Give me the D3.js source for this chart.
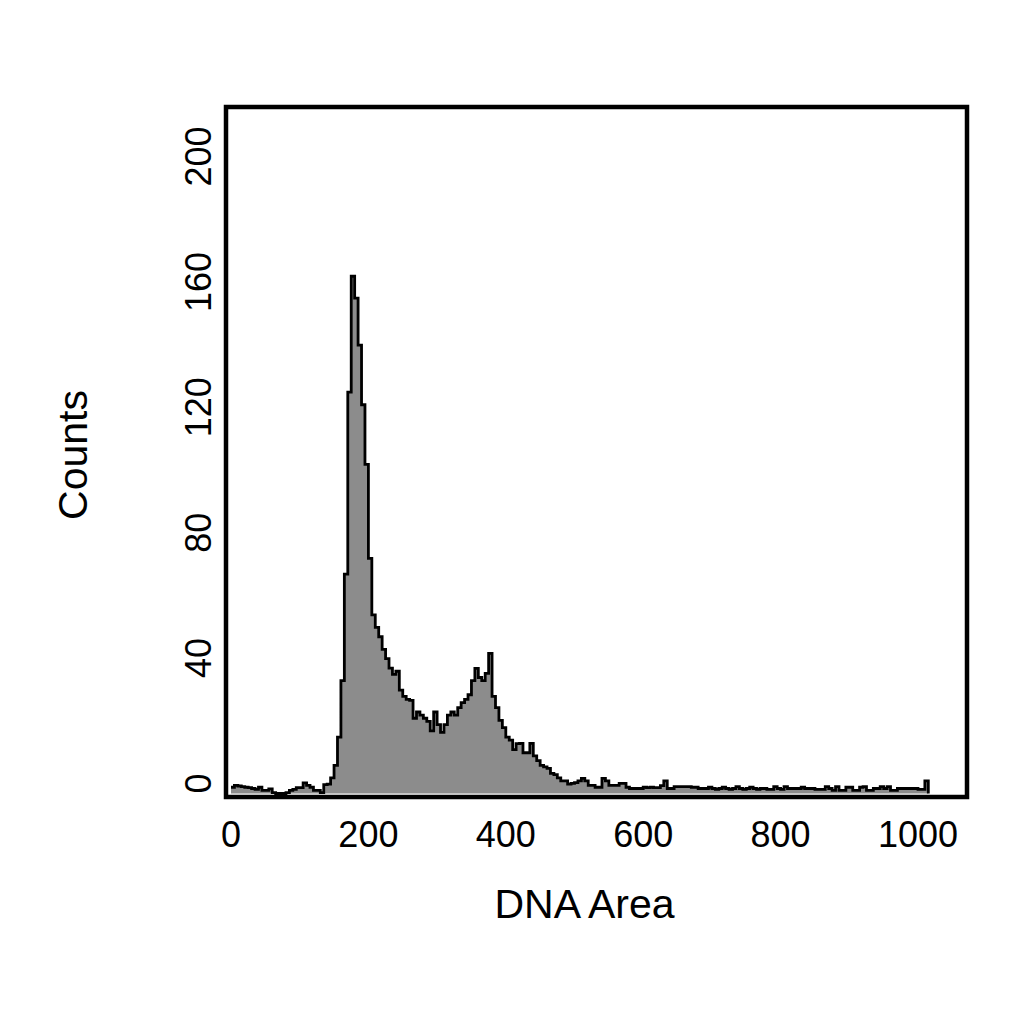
<!DOCTYPE html>
<html>
<head>
<meta charset="utf-8">
<script src="https://cdn.jsdelivr.net/npm/d3@7/dist/d3.min.js"></script>
<style>
  html, body { margin: 0; padding: 0; background: #fff; }
  svg { display: block; }
  text { font-family: "Liberation Sans", Arial, sans-serif; fill: #000; }
</style>
</head>
<body>
<svg id="chart" width="1024" height="1024"></svg>
<script>
// ---- data ----
const binWidth = 5;            // DNA Area units per bin
const counts = [
  2, 2.6, 2.4, 2.2, 2, 1.9, 1.6, 1.3, 2, 1,
  1, 1.5, 0.3, 0, 0, 0, 0.3, 1, 1.3, 1.9,
  1.9, 3.4, 2.6, 2, 1, 1, 0.3, 2.8, 3, 5,
  9, 18, 36, 70, 128, 165, 158, 143, 124, 105,
  75, 57, 53, 50, 46, 43, 40, 38, 39, 33,
  31, 30, 29.7, 24, 26, 25, 24, 23, 20, 26,
  22, 19.5, 22, 25, 26, 25, 27.4, 29, 30, 31.5,
  36, 39.9, 37, 36, 38.3, 44.7, 31, 27.4, 23.3, 21,
  18, 17, 14, 15.9, 16, 13, 13, 16, 12, 10.5,
  9, 8.5, 8, 6.4, 6, 5, 4, 4, 3, 3.2,
  3.5, 4, 4.8, 4, 2.6, 2.6, 2, 2, 4.8, 4,
  2.6, 2.6, 2.6, 3.2, 3.2, 2, 1.6, 1.6, 1.6, 1.6,
  2, 1.9, 2, 1.9, 1.9, 2.5, 4, 1.6, 1.6, 2.2,
  2.2, 2.2, 2.2, 2.2, 2, 2, 1.6, 1.6, 1.6, 2,
  1.6, 1.3, 1.6, 2, 1.6, 1.3, 1.6, 2.2, 1.6, 1.3,
  1.6, 2, 1.6, 1.3, 1.6, 1.6, 1.3, 1.3, 2.2, 1.6,
  1.3, 2.2, 1.6, 1.6, 1.6, 1.6, 2, 1.6, 1.6, 1.6,
  1.3, 1.3, 1.3, 2.2, 1.6, 1, 2.2, 1, 1, 2,
  2, 1, 1, 2, 2.2, 1, 1, 1.6, 1.6, 2.2,
  1.6, 2.2, 1, 1, 1.6, 1.6, 1.6, 1.6, 1.6, 1.6,
  1.3, 1.3, 4
];
const xTicks = [0, 200, 400, 600, 800, 1000];
const yTicks = [0, 40, 80, 120, 160, 200];
const xTitle = "DNA Area";
const yTitle = "Counts";

// ---- layout ----
const svg = d3.select("#chart");
const frame = { left: 226, top: 107, right: 967, bottom: 797 };

const x = d3.scaleLinear().domain([0, 1000]).range([231, 918]);
const y = d3.scaleLinear().domain([0, 200]).range([793.5, 166.5]);

// step points: each bin's left edge + final right edge
const pts = counts.map((c, i) => [i * binWidth, c]);
pts.push([counts.length * binWidth, counts[counts.length - 1]]);

const area = d3.area()
  .x(d => x(d[0]))
  .y0(y(0))
  .y1(d => y(d[1]))
  .curve(d3.curveStepAfter);

svg.append("path")
  .datum(pts)
  .attr("d", area)
  .attr("fill", "#8c8c8c")
  .attr("stroke", "none");

// outline: step line ending with drop to baseline
const linePts = pts.concat([[counts.length * binWidth, 0]]);
const line = d3.line()
  .x(d => x(d[0]))
  .y(d => y(d[1]))
  .curve(d3.curveStepAfter);

svg.append("path")
  .datum(linePts)
  .attr("d", line)
  .attr("fill", "none")
  .attr("stroke", "#000")
  .attr("stroke-width", 2.8)
  .attr("stroke-linejoin", "miter");

// frame
svg.append("rect")
  .attr("x", frame.left)
  .attr("y", frame.top)
  .attr("width", frame.right - frame.left)
  .attr("height", frame.bottom - frame.top)
  .attr("fill", "none")
  .attr("stroke", "#000")
  .attr("stroke-width", 4.5);

// x tick labels
svg.append("g").selectAll("text")
  .data(xTicks)
  .join("text")
  .attr("x", d => x(d))
  .attr("y", 847)
  .attr("text-anchor", "middle")
  .attr("font-size", 36)
  .text(d => d);

// y tick labels (rotated)
svg.append("g").selectAll("text")
  .data(yTicks)
  .join("text")
  .attr("transform", d => `translate(211,${y(d) - 10}) rotate(-90)`)
  .attr("text-anchor", "middle")
  .attr("font-size", 36)
  .text(d => d);

// axis titles
svg.append("text")
  .attr("x", 584.5)
  .attr("y", 918)
  .attr("text-anchor", "middle")
  .attr("font-size", 41)
  .text(xTitle);

svg.append("text")
  .attr("transform", "translate(87,455) rotate(-90)")
  .attr("text-anchor", "middle")
  .attr("font-size", 41)
  .text(yTitle);
</script>
</body>
</html>
